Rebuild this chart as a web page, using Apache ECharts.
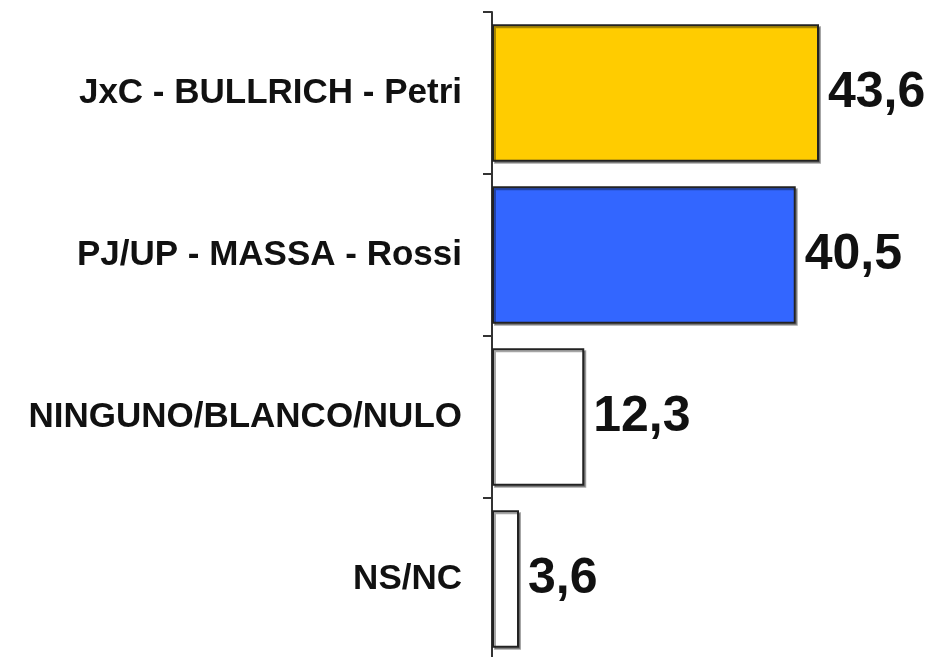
<!DOCTYPE html>
<html>
<head>
<meta charset="utf-8">
<title>Encuesta</title>
<script src="https://cdn.jsdelivr.net/npm/echarts@6/dist/echarts.min.js"></script>
<style>
  html, body { margin:0; padding:0; background:#fff; }
  #graph { width:934px; height:657px; }
</style>
</head>
<body>
<div id="graph"></div>
<script>

// datos del grafico
var categories = ['JxC - BULLRICH - Petri', 'PJ/UP - MASSA - Rossi', 'NINGUNO/BLANCO/NULO', 'NS/NC'];
var values = [43.6, 40.5, 12.3, 3.6];
var barColors = ['#FFCC00', '#3366FF', '#FFFFFF', '#FFFFFF'];

function fmt(v) {
  // coma decimal
  return v.toFixed(1).replace('.', ',');
}

var dataItems = [];
for (var i = 0; i < values.length; i++) {
  dataItems.push({
    value: values[i],
    itemStyle: { color: barColors[i] }
  });
}

var option = {
  animation: false,
  grid: {
    left: 492,
    right: 67,
    top: 12,
    height: 648,
    containLabel: false,
    outerBoundsMode: 'none'
  },
  xAxis: {
    type: 'value',
    min: 0,
    max: 50,
    show: false
  },
  yAxis: {
    type: 'category',
    inverse: true,
    data: categories,
    axisLine: { show: true, lineStyle: { color: '#333', width: 2 } },
    axisTick: { show: true, length: 9, lineStyle: { color: '#333', width: 2 } },
    axisLabel: {
      margin: 30,
      color: '#111',
      fontWeight: 'bold',
      fontSize: 35,
      fontFamily: "'Liberation Sans', Arial, sans-serif"
    }
  },
  series: [
    {
      type: 'bar',
      barCategoryGap: '15%',
      data: dataItems,
      itemStyle: {
        borderColor: '#222',
        borderWidth: 2,
        shadowColor: 'rgba(0,0,0,0.35)',
        shadowOffsetX: 2,
        shadowOffsetY: 2
      },
      label: {
        show: true,
        position: 'right',
        distance: 9,
        color: '#111',
        fontWeight: 'bold',
        fontSize: 50,
        fontFamily: "'Liberation Sans', Arial, sans-serif",
        formatter: function (p) { return fmt(p.value); }
      }
    }
  ]
};

var myChart = echarts.init(document.getElementById('graph'));
myChart.setOption(option);

</script>
</body>
</html>
